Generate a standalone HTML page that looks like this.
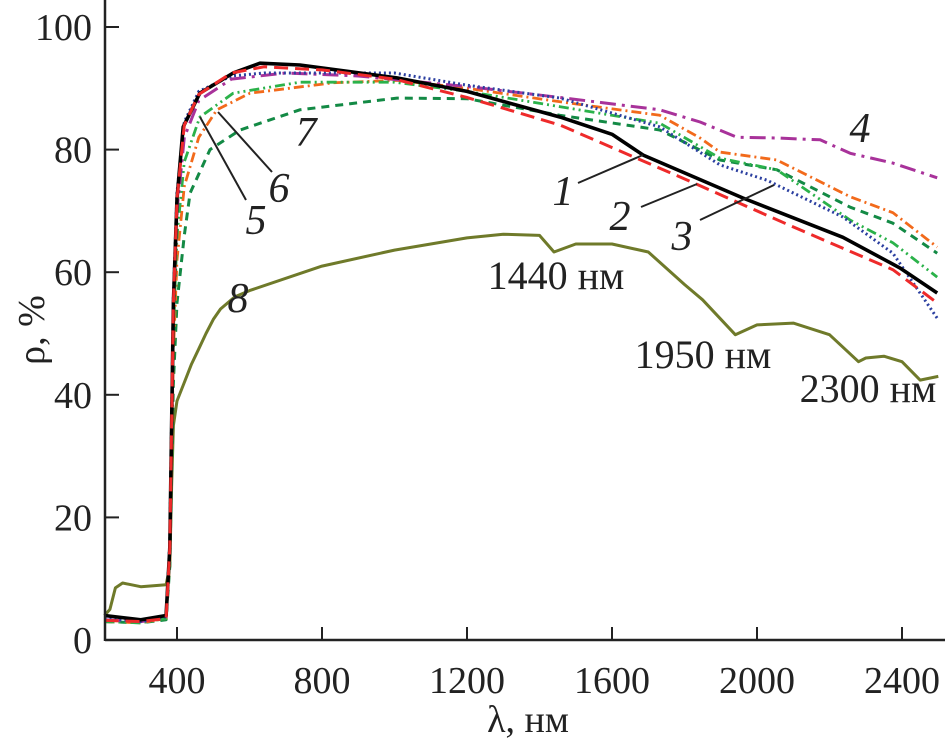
<!DOCTYPE html>
<html><head><meta charset="utf-8"><style>
html,body{margin:0;padding:0;background:#fff;}
svg{display:block;font-family:"Liberation Serif",serif;}
</style></head><body>
<svg id="chart" width="950" height="748" viewBox="0 0 950 748" xmlns="http://www.w3.org/2000/svg">
<g id="series"></g>
<g id="axes"></g>
<g id="labels"></g>
</svg>
<script>
const xTicks = [400, 800, 1200, 1600, 2000, 2400];
const yTicks = [0, 20, 40, 60, 80, 100];
const lam1 = [200,300,370,380,385,390,400,417,463,555,629,739,877,1007,1200,1457,1600,1686,1961,2237,2394,2497];
const val1 = [4,3.3,4,15,35,55,72,83.7,89.2,92.5,94.1,93.8,92.7,91.7,89.5,85.3,82.5,79.1,72.1,65.7,60.7,56.6];
const lam2 = [200,300,370,380,385,390,400,420,460,550,640,800,1000,1200,1457,1824,2099,2375,2497];
const val2 = [3.2,3,3.5,15,35,55,72,84,89,92.5,93.5,93,91.5,88.5,84,74.6,67.4,60.4,55];
const lam3 = [200,300,370,380,385,390,400,420,460,550,640,800,1000,1200,1457,1732,1898,2028,2237,2375,2497];
const val3 = [3.5,3,3.8,16,36,56,73,84.5,89.5,92,92.5,92.5,92.5,90.5,88.4,83.7,77.5,75,69,63.1,52.5];
const lam4 = [200,300,370,380,385,390,400,420,460,550,700,900,1200,1457,1732,1843,1945,2055,2174,2257,2375,2497];
const val4 = [3.3,3,3.6,15,34,54,70,82,88,91.5,92.5,92,90.3,88.5,86.5,84.5,82,81.9,81.6,79.4,77.8,75.4];
const lam5 = [200,300,370,380,385,390,400,420,463,555,739,1000,1200,1457,1732,1898,2055,2257,2375,2497];
const val5 = [3,2.8,3.5,14,32,50,66,78,85.3,89.2,91,91,89.5,87,84.3,78.6,76.7,68.5,64.8,59.2];
const lam6 = [200,300,370,380,385,390,400,420,460,510,601,830,1007,1200,1457,1732,1843,1898,2055,2257,2375,2497];
const val6 = [3,2.8,3.5,13,30,47,62,74,82,86.5,89.2,90.9,91.3,90,87.8,85.6,81.9,79.6,78.3,72.3,69.7,64.1];
const lam7 = [200,300,370,380,385,390,400,420,436,491,574,739,1007,1200,1457,1732,1898,2055,2257,2375,2497];
const val7 = [3,2.8,3.3,12,27,42,55,66,72.9,80,83.2,86.5,88.4,88.3,85.6,83.2,78.3,76.7,70.6,68,63.1];
const lam8 = [200,215,230,250,300,370,380,385,390,400,420,440,460,480,500,520,560,600,800,1000,1200,1300,1400,1440,1500,1600,1700,1800,1850,1940,2000,2100,2200,2280,2300,2350,2400,2450,2500];
const val8 = [4,5,8.5,9.3,8.7,9,12,25,35,39,42,45,47.5,50,52.3,54,56,57,61,63.6,65.6,66.2,66,63.3,64.6,64.6,63.3,58,55.5,49.8,51.4,51.7,49.8,45.4,46,46.3,45.4,42.4,43];

const NS="http://www.w3.org/2000/svg";
const X0=105, X1=945, Y0=640;
function xs(l){return 177+(l-400)*0.3625;}
function ys(v){return 640-v*6.13;}
function mk(tag,attrs,parent){const e=document.createElementNS(NS,tag);for(const k in attrs)e.setAttribute(k,attrs[k]);parent.appendChild(e);return e;}

const series=[
 {l:lam8,v:val8,c:"#6f7a2a",w:3,d:"",n:"series-8"},
 {l:lam7,v:val7,c:"#138a45",w:3,d:"8 6",n:"series-7"},
 {l:lam6,v:val6,c:"#f26a1b",w:2.8,d:"10 4 2 4",n:"series-6"},
 {l:lam5,v:val5,c:"#2bb24a",w:2.8,d:"10 4 2 4 2 4",n:"series-5"},
 {l:lam4,v:val4,c:"#a8329a",w:3,d:"16 6 3 6",n:"series-4"},
 {l:lam3,v:val3,c:"#2b3fa0",w:3,d:"2 3",n:"series-3"},
 {l:lam1,v:val1,c:"#000",w:3.6,d:"",n:"series-1"},
 {l:lam2,v:val2,c:"#ee2a2a",w:3,d:"14 7",n:"series-2"}
];
const sg=document.getElementById('series');
for(const s of series){
  let d="";
  for(let i=0;i<s.l.length;i++){d+=(i?"L":"M")+xs(s.l[i]).toFixed(1)+","+ys(s.v[i]).toFixed(1);}
  const p=mk('path',{d:d,fill:"none",stroke:s.c,"stroke-width":s.w,"stroke-linejoin":"round"},sg);
  if(s.d)p.setAttribute('stroke-dasharray',s.d);
  
  
}
const ag=document.getElementById('axes');
let ax=mk('line',{x1:X0,y1:Y0,x2:X1,y2:Y0,stroke:"#222","stroke-width":2.5},ag);


let ay=mk('line',{x1:X0,y1:0,x2:X0,y2:Y0+1,stroke:"#222","stroke-width":2.5},ag);


for(const t of xTicks){
  const x=xs(t);
  mk('line',{x1:x,y1:Y0,x2:x,y2:Y0-13,stroke:"#222","stroke-width":2},ag);
  const tx=mk('text',{x:x,y:693,"font-size":38,"text-anchor":"middle",fill:"#222"},ag);
  tx.textContent=t;
  
  
}
for(const t of yTicks){
  const y=ys(t);
  mk('line',{x1:X0,y1:y,x2:X0+14,y2:y,stroke:"#222","stroke-width":2},ag);
  const tx=mk('text',{x:92,y:y+13,"font-size":38,"text-anchor":"end",fill:"#222"},ag);
  tx.textContent=t;
  
  
}
</script>
<script>
(function(){
const NS="http://www.w3.org/2000/svg";
const g=document.getElementById('labels');
function t(x,y,s,size,style,name,anchor){const e=document.createElementNS(NS,'text');e.setAttribute('x',x);e.setAttribute('y',y);e.setAttribute('font-size',size);e.setAttribute('fill','#222');if(style)e.setAttribute('font-style',style);if(anchor)e.setAttribute('text-anchor',anchor);e.textContent=s;


g.appendChild(e);}
function l(x1,y1,x2,y2){const e=document.createElementNS(NS,'line');e.setAttribute('x1',x1);e.setAttribute('y1',y1);e.setAttribute('x2',x2);e.setAttribute('y2',y2);e.setAttribute('stroke','#222');e.setAttribute('stroke-width',2);


g.appendChild(e);}
l(578,183,643,155);l(641,207,697,184);l(700,220,774,185);l(246,200,200,117);l(272,172,218,112);
t(563,205,"1",42,"italic","label-1","middle");
t(620,230,"2",42,"italic","label-2","middle");
t(682,250,"3",42,"italic","label-3","middle");
t(860,142,"4",42,"italic","label-4","middle");
t(256,234,"5",42,"italic","label-5","middle");
t(279,202,"6",42,"italic","label-6","middle");
t(306,146,"7",42,"italic","label-7","middle");
t(238,312,"8",42,"italic","label-8","middle");
t(556,289,"1440 нм",40,"","annotation-1440","middle");
t(703,368,"1950 нм",40,"","annotation-1950","middle");
t(868,402,"2300 нм",40,"","annotation-2300","middle");
t(528,732,"λ, нм",38,"","x-axis-title","middle");
const yt=document.createElementNS(NS,'text');yt.setAttribute('x',0);yt.setAttribute('y',0);yt.setAttribute('font-size',38);yt.setAttribute('fill','#222');yt.setAttribute('text-anchor','middle');yt.setAttribute('transform','translate(44,330) rotate(-90)');yt.textContent="ρ, %";


g.appendChild(yt);
})();
</script>
</body></html>
